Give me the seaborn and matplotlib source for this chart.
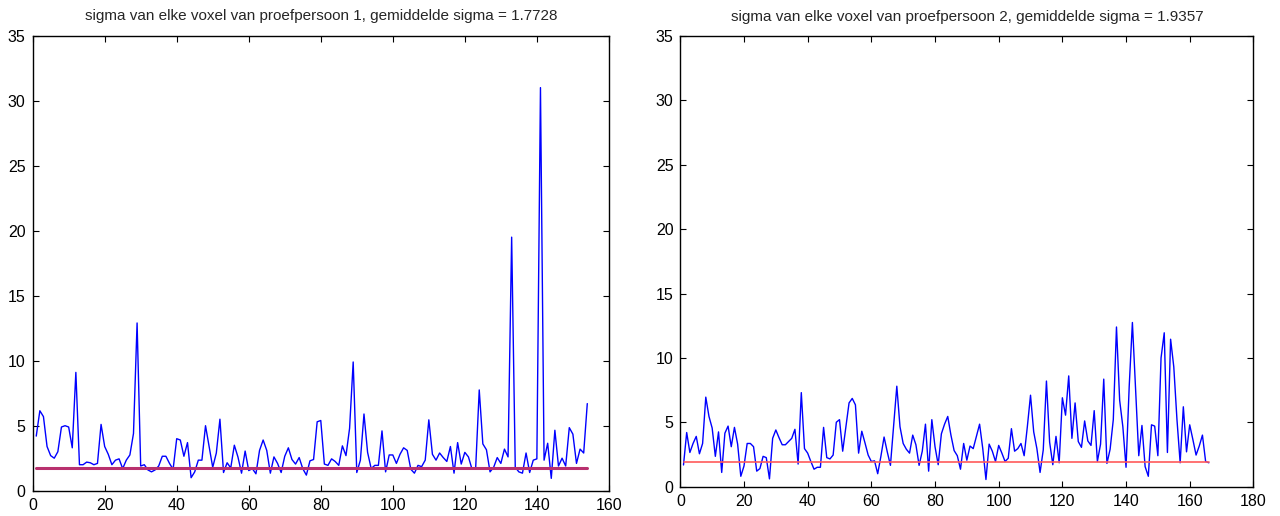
import numpy as np
import pandas as pd
import matplotlib
matplotlib.use("Agg")
import matplotlib.pyplot as plt
import seaborn as sns

# sigma per voxel, test subject 1
sigma_p1 = [
    4.2, 6.15, 5.7, 3.4, 2.7, 2.5, 3.0, 4.9, 5.0, 4.9,
    3.3, 9.1, 2.0, 2.0, 2.2, 2.15, 2.0, 2.1, 5.1, 3.4,
    2.8, 2.0, 2.35, 2.45, 1.7, 2.35, 2.75, 4.4, 12.9, 1.9,
    2.0, 1.6, 1.45, 1.6, 1.9, 2.65, 2.65, 2.1, 1.65, 4.0,
    3.9, 2.65, 3.7, 1.0, 1.45, 2.35, 2.35, 5.0, 3.4, 1.8,
    2.9, 5.5, 1.4, 2.15, 1.75, 3.5, 2.6, 1.35, 3.05, 1.55,
    1.7, 1.3, 3.1, 3.9, 3.1, 1.35, 2.6, 2.1, 1.4, 2.65,
    3.3, 2.4, 2.05, 2.55, 1.7, 1.2, 2.3, 2.4, 5.3, 5.4,
    2.05, 1.95, 2.45, 2.25, 1.95, 3.45, 2.7, 4.8, 9.9, 1.4,
    2.35, 5.9, 2.95, 1.7, 1.95, 1.95, 4.6, 1.45, 2.75, 2.75,
    2.1, 2.8, 3.3, 3.1, 1.65, 1.35, 1.95, 1.85, 2.35, 5.45,
    2.8, 2.35, 2.9, 2.55, 2.25, 3.4, 1.35, 3.7, 2.05, 2.95,
    2.6, 1.65, 1.7, 7.75, 3.6, 3.15, 1.45, 1.8, 2.55, 2.1,
    3.2, 2.6, 19.5, 1.8, 1.45, 1.35, 2.9, 1.4, 2.35, 2.45,
    31.0, 2.35, 3.65, 0.95, 4.65, 1.9, 2.5, 1.9, 4.85, 4.35,
    2.1, 3.2, 2.9, 6.7,
]

# sigma per voxel, test subject 2
sigma_p2 = [
    1.68, 4.2, 2.65, 3.35, 3.9, 2.55, 3.35, 6.95, 5.45, 4.55,
    2.35, 4.25, 1.1, 4.15, 4.7, 3.1, 4.6, 3.3, 0.8, 1.6,
    3.35, 3.35, 3.1, 1.2, 1.4, 2.35, 2.25, 0.6, 3.75, 4.4,
    3.8, 3.25, 3.25, 3.5, 3.75, 4.45, 1.75, 7.3, 2.95, 2.6,
    1.95, 1.35, 1.5, 1.5, 4.6, 2.25, 2.15, 2.45, 5.0, 5.2,
    2.75, 4.65, 6.5, 6.85, 6.35, 2.6, 4.3, 3.4, 2.45, 1.95,
    2.0, 1.0, 2.35, 3.85, 2.7, 1.65, 4.7, 7.8, 4.65, 3.35,
    2.9, 2.6, 4.0, 3.25, 1.65, 2.75, 4.85, 1.2, 5.2, 3.1,
    1.7, 4.1, 4.85, 5.45, 4.0, 2.8, 2.4, 1.35, 3.35, 2.05,
    3.15, 2.95, 3.9, 4.85, 2.95, 0.55, 3.3, 2.75, 1.95, 3.2,
    2.6, 1.95, 2.2, 4.5, 2.75, 2.95, 3.35, 2.4, 4.65, 7.1,
    4.25, 2.95, 1.1, 2.85, 8.2, 3.45, 1.7, 3.9, 1.85, 6.9,
    5.55, 8.6, 3.75, 6.5, 3.5, 3.05, 5.1, 3.55, 3.2, 5.9,
    1.95, 3.3, 8.35, 1.8, 2.9, 5.2, 12.4, 6.7, 4.65, 1.5,
    7.8, 12.75, 7.5, 2.4, 4.75, 1.55, 0.8, 4.8, 4.7, 2.4,
    10.0, 11.95, 2.65, 11.45, 9.3, 5.2, 1.85, 6.2, 2.7, 4.8,
    3.65, 2.45, 3.15, 4.0, 1.95, 1.85,
]

mean_sigma = [1.7728, 1.9357]
titles = [
    "sigma van elke voxel van proefpersoon 1, gemiddelde sigma = 1.7728",
    "sigma van elke voxel van proefpersoon 2, gemiddelde sigma = 1.9357",
]
x_limits = [160, 180]
y_ticks = [0, 5, 10, 15, 20, 25, 30, 35]

sns.set_style("ticks")
plt.rcParams["font.family"] = ["Liberation Sans", "DejaVu Sans"]

fig = plt.figure(figsize=(12.8, 5.16), dpi=100)
axes = [
    fig.add_axes([0.0255, 0.049, 0.4502, 0.882]),
    fig.add_axes([0.5315, 0.057, 0.4477, 0.873]),
]
mean_colors = ["#b8306e", "#ff5a5a"]
mean_widths = [2.2, 1.2]

for ax, sig, mu, title, xmax, mc, mw in zip(
    axes, [sigma_p1, sigma_p2], mean_sigma, titles, x_limits, mean_colors, mean_widths
):
    n = len(sig)
    df = pd.DataFrame({"voxel": np.arange(1, n + 1), "sigma": sig})
    sns.lineplot(data=df, x="voxel", y="sigma", ax=ax, color="#0000ff", linewidth=1.0)
    mean_df = pd.DataFrame({"voxel": [1, n], "sigma": [mu, mu]})
    sns.lineplot(data=mean_df, x="voxel", y="sigma", ax=ax, color=mc, linewidth=mw)

    ax.set_xlim(0, xmax)
    ax.set_ylim(0, 35)
    ax.set_xticks(np.arange(0, xmax + 1, 20))
    ax.set_yticks(y_ticks)
    ax.set_xlabel("")
    ax.set_ylabel("")
    ax.set_title(title, fontsize=11, pad=11)
    for side in ["top", "right", "left", "bottom"]:
        ax.spines[side].set_visible(True)
        ax.spines[side].set_color("black")
        ax.spines[side].set_linewidth(1.0)
    ax.tick_params(direction="in", length=4, width=0.8, top=True, right=True,
                   labelsize=11.5, colors="black", pad=5)

fig.savefig("out.png", dpi=100)
